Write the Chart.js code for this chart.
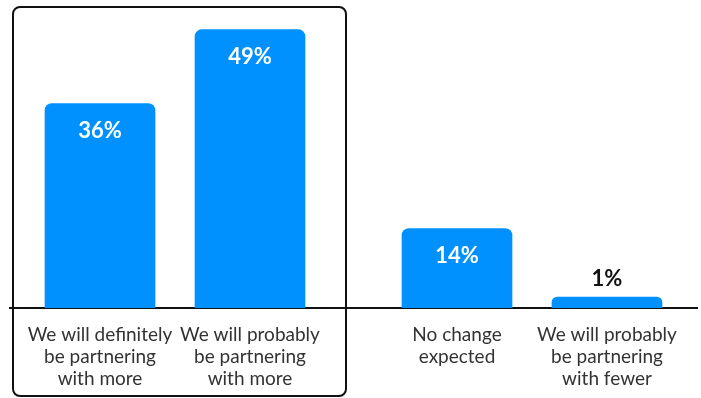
<!DOCTYPE html>
<html>
<head>
<meta charset="utf-8">
<script src="https://cdn.jsdelivr.net/npm/chart.js"></script>
<style>
  html, body { margin: 0; padding: 0; background: #fff; }
  #wrap { width: 701px; height: 398px; position: relative; }
</style>
</head>
<body>
<div id="wrap"><canvas id="myChart"></canvas></div>
<script>
// answers and their shares (%)
const answers = [
  ['We will definitely', 'be partnering', 'with more'],
  ['We will probably', 'be partnering', 'with more'],
  ['No change', 'expected'],
  ['We will probably', 'be partnering', 'with fewer'],
];
const shares = [36, 49, 14, 1];

// the "more" answers sit in their own group, the rest after a gap
const groupGap = 0.38;
const xPos = answers.map((_, i) => i + (i >= 2 ? groupGap : 0));

const BLUE = '#0091ff';
const FONT = 'Lato, "Open Sans", sans-serif';

// frame around the first two answers
const groupFrame = {
  id: 'groupFrame',
  afterDraw(chart) {
    const ctx = chart.ctx;
    const x = chart.scales.x;
    const left = x.getPixelForValue(x.min) + 3;
    const right = x.getPixelForValue(xPos[1] + 0.64);
    const top = 7;
    const bottom = chart.height - 2;
    ctx.save();
    ctx.strokeStyle = '#111';
    ctx.lineWidth = 2;
    ctx.beginPath();
    ctx.roundRect(left, top, right - left, bottom - top, 7);
    ctx.stroke();
    ctx.restore();
  }
};

// percent labels: inside tall bars, above short ones
const valueLabels = {
  id: 'valueLabels',
  afterDatasetsDraw(chart) {
    const ctx = chart.ctx;
    const meta = chart.getDatasetMeta(0);
    ctx.save();
    ctx.font = 'bold 22px ' + FONT;
    ctx.textAlign = 'center';
    ctx.textBaseline = 'middle';
    meta.data.forEach((bar, i) => {
      const h = bar.base - bar.y;
      const txt = shares[i] + '%';
      if (h > 40) {
        ctx.fillStyle = '#fff';
        ctx.fillText(txt, bar.x, bar.y + 27);
      } else {
        ctx.fillStyle = '#111';
        ctx.fillText(txt, bar.x, bar.y - 18);
      }
    });
    ctx.restore();
  }
};

new Chart(document.getElementById('myChart'), {
  type: 'bar',
  data: {
    datasets: [{
      data: shares.map((v, i) => ({ x: xPos[i], y: v })),
      backgroundColor: BLUE,
      borderRadius: 7,
      borderSkipped: 'bottom',
      barThickness: 110,
      minBarLength: 11,
    }]
  },
  options: {
    responsive: true,
    maintainAspectRatio: false,
    animation: false,
    layout: { padding: { left: 10, right: 4, top: 24, bottom: -8 } },
    plugins: {
      legend: { display: false },
      tooltip: { enabled: false },
    },
    scales: {
      x: {
        type: 'linear',
        offset: false,
        min: -0.6,
        max: xPos[xPos.length - 1] + 0.6,
        z: 1,
        grid: { display: false, drawTicks: false },
        border: { display: true, color: '#111', width: 2 },
        afterBuildTicks(scale) {
          scale.ticks = xPos.map(v => ({ value: v }));
        },
        ticks: {
          autoSkip: false,
          maxRotation: 0,
          padding: 16,
          color: '#333',
          font: { family: FONT, size: 19, lineHeight: 22 / 19 },
          callback: (value, index) => answers[index],
        },
      },
      y: {
        display: false,
        min: 0,
        max: 50,
      },
    },
  },
  plugins: [groupFrame, valueLabels],
});
</script>
</body>
</html>
